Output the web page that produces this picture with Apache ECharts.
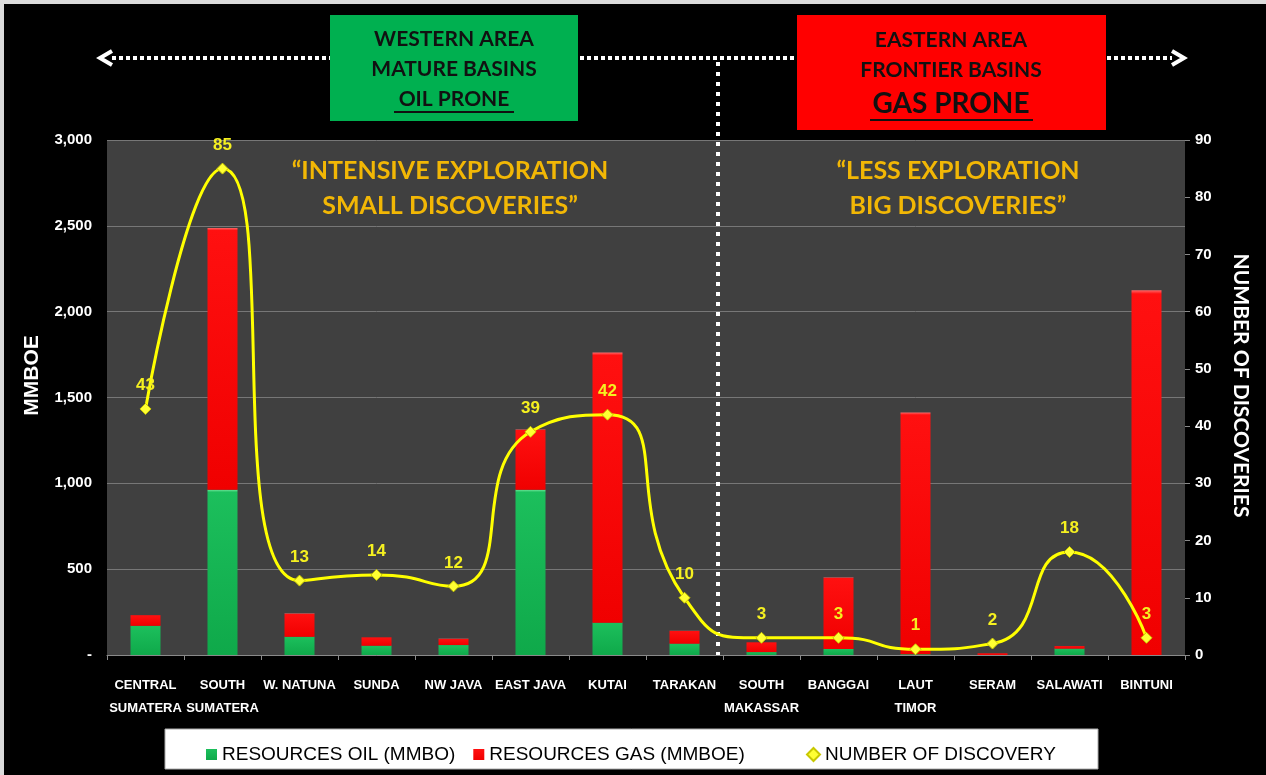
<!DOCTYPE html>
<html>
<head>
<meta charset="utf-8">
<script src="https://cdn.jsdelivr.net/npm/echarts@6/dist/echarts.min.js"></script>
<style>
html,body{margin:0;padding:0;background:#000;}
#chart{width:1266px;height:775px;}
</style>
</head>
<body>
<div id="chart"></div>
<script>
const categories = ['CENTRAL\nSUMATERA','SOUTH\nSUMATERA','W. NATUNA','SUNDA','NW JAVA','EAST JAVA','KUTAI','TARAKAN','SOUTH\nMAKASSAR','BANGGAI','LAUT\nTIMOR','SERAM','SALAWATI','BINTUNI'];
const oilResources = [170, 963, 106, 54, 58, 963, 188, 66, 17, 35, 4, 0, 37, 0];
const gasResources = [62, 1525, 136, 49, 37, 351, 1574, 75, 57, 417, 1409, 10, 15, 2125];
const discoveries = [43, 85, 13, 14, 12, 39, 42, 10, 3, 3, 1, 2, 18, 3];
const leftTicks = {min: 0, max: 3000, interval: 500};
const rightTicks = {min: 0, max: 90, interval: 10};

const arial = '"Liberation Sans",Arial,sans-serif';
const calibri = 'Lato,"Open Sans",sans-serif';
const gold = '#f2b705';

const chart = echarts.init(document.getElementById('chart'));

function dots(x1, y1, x2, y2, dash) {
  return {type: 'line', shape: {x1, y1, x2, y2}, style: {stroke: '#fff', lineWidth: 4, lineDash: dash || [4, 3]}, z: 5};
}
function boxText(x, y, text, size) {
  return {type: 'text', x, y, style: {text, fill: '#111', font: 'bold ' + size + 'px ' + calibri, align: 'center', verticalAlign: 'middle'}, z: 7};
}
function quoteText(x, y, text) {
  return {type: 'text', x, y, style: {text, fill: gold, font: 'bold 25px ' + calibri, align: 'center', verticalAlign: 'middle'}, z: 7};
}

const legendText = {color: '#000', fontFamily: arial, fontSize: 19};

const option = {
  backgroundColor: '#000',
  animation: false,
  grid: {left: 107, right: 81, top: 140, bottom: 120, show: true, backgroundColor: '#404040', borderWidth: 0},
  legend: [
    {
      left: 201, top: 740, itemWidth: 11, itemHeight: 11, itemGap: 18, textStyle: legendText,
      data: [{name: 'RESOURCES OIL (MMBO)', icon: 'rect'}, {name: 'RESOURCES GAS (MMBOE)', icon: 'rect'}]
    },
    {
      left: 801, top: 740, itemWidth: 13, itemHeight: 13, textStyle: legendText,
      data: [{name: 'NUMBER OF DISCOVERY', icon: 'diamond'}]
    }
  ],
  xAxis: {
    type: 'category', data: categories,
    axisLine: {lineStyle: {color: '#8a8a8a'}},
    axisTick: {show: true, length: 5, lineStyle: {color: '#8a8a8a'}},
    axisLabel: {color: '#fff', fontFamily: arial, fontWeight: 'bold', fontSize: 13, lineHeight: 23, margin: 19, interval: 0}
  },
  yAxis: [
    {
      type: 'value', min: leftTicks.min, max: leftTicks.max, interval: leftTicks.interval,
      name: 'MMBOE', nameLocation: 'middle', nameGap: 64,
      nameTextStyle: {color: '#fff', fontFamily: arial, fontWeight: 'bold', fontSize: 21, padding: [0, 0, 0, 44]},
      axisLine: {show: false}, axisTick: {show: false},
      axisLabel: {color: '#fff', fontFamily: arial, fontWeight: 'bold', fontSize: 15, margin: 15,
        formatter: v => v === 0 ? '-' : v.toLocaleString('en-US')},
      splitLine: {lineStyle: {color: '#777', width: 1}}
    },
    {
      type: 'value', min: rightTicks.min, max: rightTicks.max, interval: rightTicks.interval,
      name: 'NUMBER OF DISCOVERIES', nameLocation: 'middle', nameGap: 45, nameRotate: -90,
      nameTextStyle: {color: '#fff', fontFamily: calibri, fontWeight: 'bold', fontSize: 21, padding: [0, 24, 0, 0]},
      axisLine: {show: false},
      axisTick: {show: true, length: 5, lineStyle: {color: '#8a8a8a'}},
      axisLabel: {color: '#fff', fontFamily: arial, fontWeight: 'bold', fontSize: 15, margin: 10},
      splitLine: {show: false}
    }
  ],
  series: [
    {
      name: 'RESOURCES OIL (MMBO)', type: 'bar', stack: 'res', data: oilResources, barWidth: 30,
      itemStyle: {color: new echarts.graphic.LinearGradient(0, 0, 0, 1, [
        {offset: 0, color: '#6fe59a'}, {offset: 0.015, color: '#1cbf5c'}, {offset: 1, color: '#0fa94a'}])}
    },
    {
      name: 'RESOURCES GAS (MMBOE)', type: 'bar', stack: 'res', data: gasResources, barWidth: 30,
      itemStyle: {color: new echarts.graphic.LinearGradient(0, 0, 0, 1, [
        {offset: 0, color: '#ff6a6a'}, {offset: 0.01, color: '#ff1010'}, {offset: 1, color: '#f00000'}])}
    },
    {
      name: 'NUMBER OF DISCOVERY', type: 'line', yAxisIndex: 1, data: discoveries, smooth: 0.6,
      symbol: 'diamond', symbolSize: 11, z: 10,
      lineStyle: {color: '#ffff00', width: 3},
      itemStyle: {color: '#ffff33', borderColor: '#c8c800', borderWidth: 1},
      label: {show: true, position: 'top', distance: 9, color: '#f5f020', fontFamily: arial, fontWeight: 'bold', fontSize: 17}
    }
  ],
  graphic: [
    {type: 'rect', shape: {x: 0, y: 0, width: 1266, height: 4}, style: {fill: '#dcdcdc'}},
    {type: 'rect', shape: {x: 0, y: 0, width: 4, height: 775}, style: {fill: '#dcdcdc'}},
    {type: 'rect', shape: {x: 165, y: 729, width: 933, height: 40}, style: {fill: '#fff', stroke: '#aaa', lineWidth: 1}, z: -1},
    dots(112, 58, 330, 58),
    dots(580, 58, 797, 58),
    dots(1107, 58, 1172, 58),
    dots(718, 62, 718, 655, [4, 6]),
    {type: 'polyline', shape: {points: [[112, 51], [100, 58], [112, 65]]}, style: {stroke: '#fff', lineWidth: 4, fill: null}, z: 5},
    {type: 'polyline', shape: {points: [[1172, 51], [1184, 58], [1172, 65]]}, style: {stroke: '#fff', lineWidth: 4, fill: null}, z: 5},
    {type: 'rect', shape: {x: 330, y: 15, width: 248, height: 106}, style: {fill: '#00b050'}, z: 6},
    boxText(454, 39, 'WESTERN AREA', 21),
    boxText(454, 69, 'MATURE BASINS', 21),
    boxText(454, 99, 'OIL PRONE', 21),
    {type: 'line', shape: {x1: 394, y1: 112, x2: 514, y2: 112}, style: {stroke: '#111', lineWidth: 2}, z: 7},
    {type: 'rect', shape: {x: 797, y: 15, width: 309, height: 115}, style: {fill: '#ff0000'}, z: 6},
    boxText(951, 40, 'EASTERN AREA', 21),
    boxText(951, 70, 'FRONTIER BASINS', 21),
    boxText(951, 104, 'GAS PRONE', 28),
    {type: 'line', shape: {x1: 870, y1: 120, x2: 1033, y2: 120}, style: {stroke: '#111', lineWidth: 2}, z: 7},
    quoteText(450, 171, '\u201cINTENSIVE EXPLORATION'),
    quoteText(450, 206, 'SMALL DISCOVERIES\u201d'),
    quoteText(958, 171, '\u201cLESS EXPLORATION'),
    quoteText(958, 206, 'BIG DISCOVERIES\u201d')
  ]
};
chart.setOption(option);
</script>
</body>
</html>
